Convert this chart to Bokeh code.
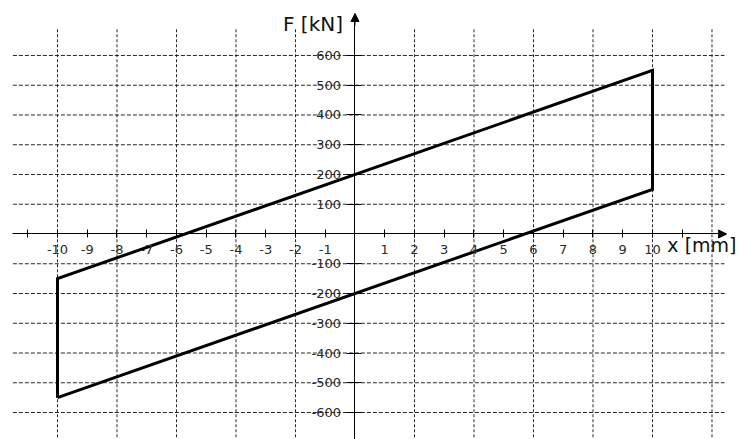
from bokeh.plotting import figure
from bokeh.models import (Range1d, FixedTicker, Arrow, NormalHead, Label)
from bokeh.embed import file_html
from bokeh.resources import INLINE

# Hysteresis loop of the force-displacement relation
loop_x = [-10, -10, 10, 10, -10]          # displacement x [mm]
loop_f = [-550, -150, 550, 150, -550]     # force F [kN]

# Axis ticks and their labels
x_ticks = list(range(-11, 12))
x_tick_labels = ["" if t in (-11, 0, 11) else str(t) for t in x_ticks]
f_ticks = list(range(-600, 700, 100))
f_tick_labels = ["" if t == 0 else str(t) for t in f_ticks]

# Dashed grid positions
grid_x = [-10, -8, -6, -4, -2, 2, 4, 6, 8, 10, 12]
grid_f = [-600, -500, -400, -300, -200, -100, 100, 200, 300, 400, 500, 600]

W, H = 738, 439
p = figure(width=W, height=H, output_backend="svg", toolbar_location=None,
           x_range=Range1d(-11.916, 12.891), y_range=Range1d(-690.7, 784.8),
           min_border=0, min_border_left=0, min_border_right=0,
           min_border_top=0, min_border_bottom=0)
p.outline_line_color = None
p.background_fill_color = "white"
p.border_fill_color = "white"
p.xgrid.visible = False
p.ygrid.visible = False

FONT = "DejaVu Sans"
GRID_COLOR = "#111111"
TICK_COLOR = "#2b2b2b"

# grid lines
p.segment(x0=[-11.5] * len(grid_f), x1=[12.42] * len(grid_f), y0=grid_f, y1=grid_f,
          line_color=GRID_COLOR, line_width=1, line_dash="4 2", line_alpha=0.9)
p.segment(x0=grid_x, x1=grid_x, y0=[-700] * len(grid_x), y1=[690] * len(grid_x),
          line_color=GRID_COLOR, line_width=1, line_dash="3 2", line_alpha=0.9)

# axes crossing at the origin
xa = p.xaxis[0]
xa.fixed_location = 0
xa.ticker = FixedTicker(ticks=x_ticks)
xa.major_label_overrides = {t: s for t, s in zip(x_ticks, x_tick_labels)}
xa.bounds = (-11.5, 12.3)
xa.major_tick_in = 4
xa.major_tick_out = 4
xa.minor_tick_line_color = None
xa.major_label_standoff = 7
xa.major_label_text_font = FONT
xa.major_label_text_font_size = "13px"
xa.major_label_text_color = TICK_COLOR
xa.axis_line_color = "black"
xa.major_tick_line_color = "black"

ya = p.yaxis[0]
ya.fixed_location = 0
ya.ticker = FixedTicker(ticks=f_ticks)
ya.major_label_overrides = {t: s for t, s in zip(f_ticks, f_tick_labels)}
ya.bounds = (-700, 720)
ya.major_tick_in = 7
ya.major_tick_out = 8
ya.minor_tick_line_color = None
ya.major_label_standoff = 6
ya.major_label_text_font = FONT
ya.major_label_text_font_size = "13px"
ya.major_label_text_color = TICK_COLOR
ya.axis_line_color = "black"
ya.major_tick_line_color = "black"

# arrow heads at the positive ends of the axes
p.add_layout(Arrow(end=NormalHead(size=8, fill_color="black", line_color="black"),
                   x_start=12.2, y_start=0, x_end=12.49, y_end=0,
                   line_color="black", line_width=1))
p.add_layout(Arrow(end=NormalHead(size=8, fill_color="black", line_color="black"),
                   x_start=0, y_start=700, x_end=0, y_end=741,
                   line_color="black", line_width=1))

# the loop
p.line(loop_x, loop_f, line_color="black", line_width=3, line_join="miter")

# axis titles
p.add_layout(Label(x=-2.42, y=705, text="F [kN]", text_font=FONT,
                   text_font_size="20px", text_color="#111111",
                   text_baseline="middle", text_align="left"))
p.add_layout(Label(x=10.5, y=-36, text="x [mm]", text_font=FONT,
                   text_font_size="19px", text_color="#111111",
                   text_baseline="middle", text_align="left"))

open("out.html", "w").write(file_html(p, INLINE))
